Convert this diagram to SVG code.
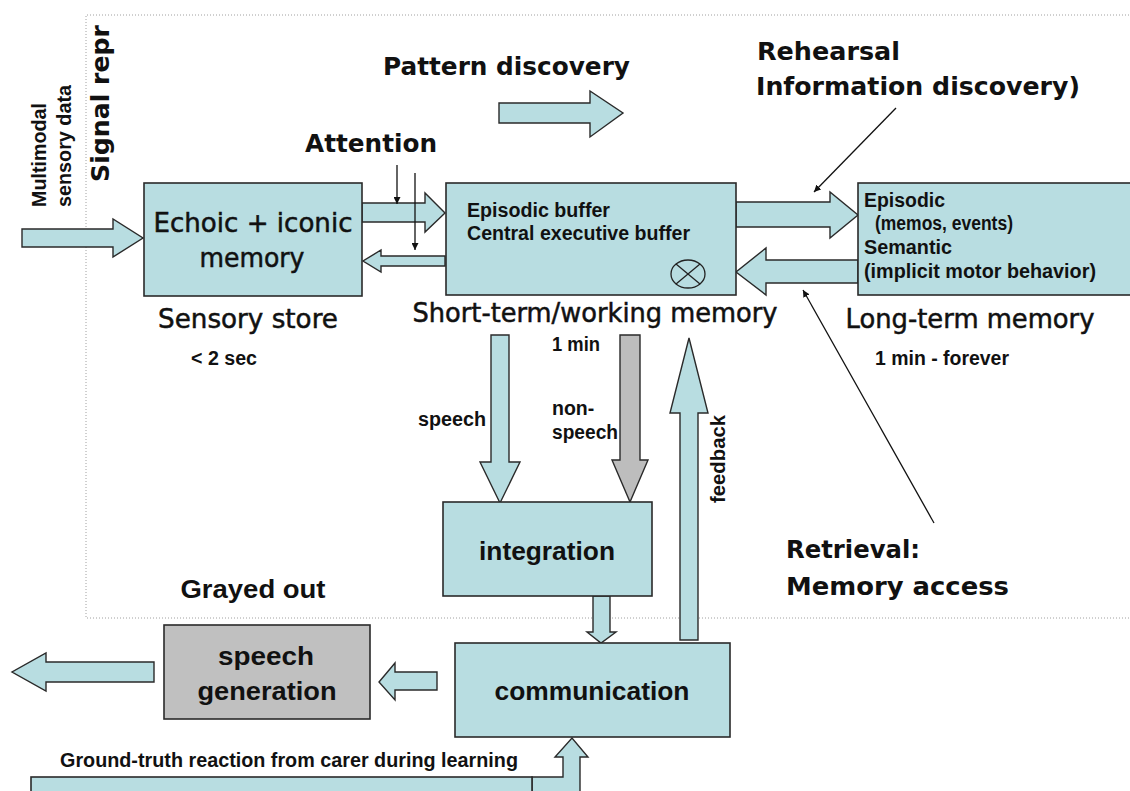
<svg xmlns="http://www.w3.org/2000/svg" width="1130" height="791" viewBox="0 0 1130 791">
<defs>
<style>
.box{fill:#b8dde1;stroke:#2a2a2a;stroke-width:1.6}
.gbox{fill:#c0c0c0;stroke:#2a2a2a;stroke-width:1.6}
.blk{fill:#b8dde1;stroke:#2a2a2a;stroke-width:1.4;stroke-linejoin:miter}
.gblk{fill:#bdbdbd;stroke:#2a2a2a;stroke-width:1.4}
.thin{fill:none;stroke:#111;stroke-width:1.3}
.frame{fill:none;stroke:#a0a0a0;stroke-width:1;stroke-dasharray:1 2}
.lbl{font-family:"DejaVu Sans",Verdana,sans-serif;font-size:26px;fill:#111;stroke:#111;stroke-width:0.5}
.lblb{font-family:"Liberation Sans",Arial,sans-serif;font-weight:bold;font-size:26px;fill:#111}
.head{font-family:"DejaVu Sans",Verdana,sans-serif;font-weight:bold;font-size:25px;fill:#111}
.sm{font-family:"Liberation Sans",Arial,sans-serif;font-weight:bold;font-size:19.5px;fill:#111}
.mid{text-anchor:middle}
</style>
<marker id="ah" viewBox="0 0 10 10" refX="10" refY="5" markerWidth="7" markerHeight="7" orient="auto" markerUnits="userSpaceOnUse">
<path d="M0,0 L10,5 L0,10 z" fill="#111"/>
</marker>
</defs>
<rect width="1130" height="791" fill="#ffffff"/>
<path class="frame" d="M1132,15 H86 V618 H1132"/>

<g id="labels">
<text class="head" transform="translate(109,182) rotate(-90)" textLength="157" lengthAdjust="spacingAndGlyphs">Signal repr</text>
<text class="sm" transform="translate(46,207) rotate(-90)" textLength="104" lengthAdjust="spacingAndGlyphs">Multimodal</text>
<text class="sm" transform="translate(71,207) rotate(-90)" textLength="122" lengthAdjust="spacingAndGlyphs">sensory data</text>
<text class="head" x="383" y="75" textLength="247" lengthAdjust="spacingAndGlyphs">Pattern discovery</text>
<text class="head" x="305" y="152" textLength="132" lengthAdjust="spacingAndGlyphs">Attention</text>
<text class="head" x="757" y="60" textLength="143" lengthAdjust="spacingAndGlyphs">Rehearsal</text>
<text class="head" x="756" y="95" textLength="324" lengthAdjust="spacingAndGlyphs">Information discovery)</text>
<text class="head" x="786" y="558" textLength="134" lengthAdjust="spacingAndGlyphs">Retrieval:</text>
<text class="head" x="786" y="595" textLength="223" lengthAdjust="spacingAndGlyphs">Memory access</text>
<text class="lbl mid" x="248" y="328" textLength="180" lengthAdjust="spacingAndGlyphs">Sensory store</text>
<text class="lbl mid" x="595" y="322" textLength="365" lengthAdjust="spacingAndGlyphs">Short-term/working memory</text>
<text class="lbl mid" x="970" y="328" textLength="249" lengthAdjust="spacingAndGlyphs">Long-term memory</text>
<text class="sm" x="191" y="365" textLength="66" lengthAdjust="spacingAndGlyphs">&lt; 2 sec</text>
<text class="sm" x="552" y="351" textLength="48" lengthAdjust="spacingAndGlyphs">1 min</text>
<text class="sm" x="875" y="365" textLength="134" lengthAdjust="spacingAndGlyphs">1 min - forever</text>
<text class="sm" x="418" y="426" textLength="68" lengthAdjust="spacingAndGlyphs">speech</text>
<text class="sm" x="552" y="415">non-</text>
<text class="sm" x="552" y="439" textLength="66" lengthAdjust="spacingAndGlyphs">speech</text>
<text class="sm" transform="translate(725,503) rotate(-90)" textLength="88" lengthAdjust="spacingAndGlyphs">feedback</text>
<text class="lblb mid" x="253" y="598" textLength="145" lengthAdjust="spacingAndGlyphs">Grayed out</text>
<text class="sm" x="60" y="767" textLength="458" lengthAdjust="spacingAndGlyphs">Ground-truth reaction from carer during learning</text>
</g>

<g id="connectors">
<polygon class="blk" points="22,229 113,229 113,219 143,238 113,257 113,247 22,247"/>
<polygon class="blk" points="362,203 425,203 425,193 445,213 425,232 425,222 362,222"/>
<polygon class="blk" points="445,256 381,256 381,250 363,261 381,272 381,266 445,266"/>
<polygon class="blk" points="736,202 830,202 830,192 858,215 830,238 830,227 736,227"/>
<polygon class="blk" points="858,260 766,260 766,248 736,272 766,295 766,283 858,283"/>
<polygon class="blk" points="499,103 590,103 590,91 623,113 590,137 590,123 499,123"/>
<polygon class="blk" points="491,335 509,335 509,462 520,462 500,503 480,462 491,462"/>
<polygon class="gblk" points="620,335 640,335 640,460 648,460 630,502 612,460 620,460"/>
<polygon class="blk" points="680,640 680,413 670,413 689,338 708,413 698,413 698,640"/>
<polygon class="blk" points="593,596 610,596 610,632 616,632 601,643 587,632 593,632"/>
<polygon class="blk" points="437,672 395,672 395,663 379,682 395,700 395,690 437,690"/>
<polygon class="blk" points="154,662 46,662 46,653 12,672 46,691 46,682 154,682"/>
<polygon class="blk" points="532,777 563,777 563,757 555,757 572,738 588,757 580,757 580,800 532,800"/>
<line class="thin" x1="397" y1="165" x2="397" y2="204" marker-end="url(#ah)"/>
<line class="thin" x1="415" y1="173" x2="415" y2="250" marker-end="url(#ah)"/>
<line class="thin" x1="896" y1="108" x2="814" y2="192" marker-end="url(#ah)"/>
<line class="thin" x1="934" y1="523" x2="803" y2="290" marker-end="url(#ah)"/>
</g>

<g id="echoic">
<rect class="box" x="144" y="183" width="218" height="113"/>
<text class="lbl mid" x="253" y="232" textLength="199" lengthAdjust="spacingAndGlyphs">Echoic + iconic</text>
<text class="lbl mid" x="252" y="267" textLength="105" lengthAdjust="spacingAndGlyphs">memory</text>
</g>

<g id="episodic-buffer">
<rect class="box" x="446" y="183" width="290" height="112"/>
<text class="sm" x="467" y="217" textLength="143" lengthAdjust="spacingAndGlyphs">Episodic buffer</text>
<text class="sm" x="467" y="240" textLength="223" lengthAdjust="spacingAndGlyphs">Central executive buffer</text>
<g fill="none" stroke="#222" stroke-width="1.3">
<ellipse cx="688" cy="274" rx="17" ry="14"/>
<line x1="676" y1="264" x2="700" y2="284"/>
<line x1="700" y1="264" x2="676" y2="284"/>
</g>
</g>

<g id="long-term">
<rect class="box" x="858" y="183" width="290" height="112"/>
<text class="sm" x="864" y="207" textLength="81" lengthAdjust="spacingAndGlyphs">Episodic</text>
<text class="sm" x="875" y="230" textLength="138" lengthAdjust="spacingAndGlyphs">(memos, events)</text>
<text class="sm" x="864" y="254" textLength="88" lengthAdjust="spacingAndGlyphs">Semantic</text>
<text class="sm" x="864" y="278" textLength="232" lengthAdjust="spacingAndGlyphs">(implicit motor behavior)</text>
</g>

<g id="integration">
<rect class="box" x="443" y="502" width="209" height="94"/>
<text class="lblb mid" x="547" y="560" textLength="136" lengthAdjust="spacingAndGlyphs">integration</text>
</g>

<g id="communication">
<rect class="box" x="455" y="643" width="275" height="94"/>
<text class="lblb mid" x="592" y="700" textLength="195" lengthAdjust="spacingAndGlyphs">communication</text>
</g>

<g id="speech-generation">
<rect class="gbox" x="164" y="625" width="206" height="94"/>
<text class="lblb mid" x="266" y="665" textLength="96" lengthAdjust="spacingAndGlyphs">speech</text>
<text class="lblb mid" x="267" y="700" textLength="139" lengthAdjust="spacingAndGlyphs">generation</text>
</g>

<g id="ground-truth">
<rect class="box" x="31" y="777" width="501" height="30"/>
</g>
</svg>
